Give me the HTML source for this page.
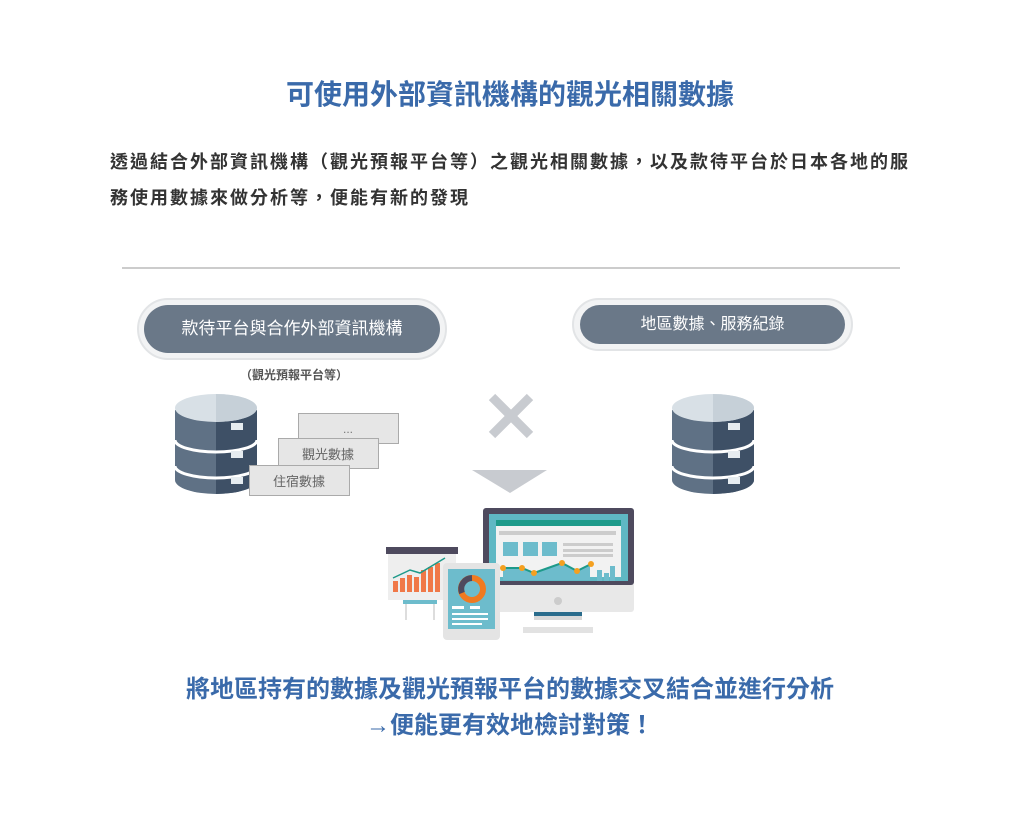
<!DOCTYPE html>
<html><head><meta charset="utf-8"><style>
body{margin:0;width:1020px;height:820px;background:#fff;position:relative;font-family:"Liberation Sans","Noto Sans CJK TC",sans-serif;overflow:hidden}
.a{position:absolute}
.t{left:0;width:1020px;text-align:center}
</style></head><body>
<div class="a t" style="top:73px;font-size:28px;font-weight:bold;color:#3a6aaa">可使用外部資訊機構的觀光相關數據</div>
<div class="a" style="left:110px;top:144px;width:812px;font-size:18px;letter-spacing:2px;font-weight:bold;color:#333;line-height:36px">透過結合外部資訊機構（觀光預報平台等）之觀光相關數據，以及款待平台於日本各地的服務使用數據來做分析等，便能有新的發現</div>
<div class="a" style="left:122px;top:267px;width:778px;height:2px;background:#ccc"></div>

<div class="a" style="left:137px;top:298px;width:306px;height:58px;border:2px solid #e2e4e6;border-radius:32px;background:#f2f3f4"></div>
<div class="a" style="left:144px;top:305px;width:296px;height:48px;border-radius:24px;background:#6a7888;color:#fff;font-size:17px;line-height:48px;text-align:center">款待平台與合作外部資訊機構</div>
<div class="a" style="left:572px;top:298px;width:277px;height:49px;border:2px solid #e2e4e6;border-radius:28px;background:#f2f3f4"></div>
<div class="a" style="left:580px;top:305px;width:265px;height:39px;border-radius:20px;background:#6a7888;color:#fff;font-size:16px;line-height:39px;text-align:center">地區數據、服務紀錄</div>
<div class="a" style="left:240px;top:366px;font-size:12px;color:#555;font-weight:bold">（觀光預報平台等）</div>

<svg class="a" style="left:0;top:0" width="1020" height="820">
<g id="db">
<path d="M175 410 v70 a41 14 0 0 0 82 0 v-70z" fill="#5f7185"/>
<path d="M216 410 h41 v70 a41 14 0 0 1 -41 14z" fill="#3e5066"/>
<path d="M175 440 a41 12 0 0 0 82 0 M175 466 a41 12 0 0 0 82 0" stroke="#fff" stroke-width="3" fill="none"/>
<ellipse cx="216" cy="408" rx="41" ry="14" fill="#d8e0e6"/>
<path d="M216 394 a41 14 0 0 1 0 28z" fill="#c6d0d8"/>
<rect x="231" y="423" width="12" height="7" fill="#e6ecf0"/>
<rect x="231" y="451" width="12" height="7" fill="#e6ecf0"/>
<rect x="231" y="477" width="12" height="7" fill="#e6ecf0"/>
</g>
<use href="#db" x="497"/>
<rect x="298.5" y="413.5" width="100" height="30" fill="#e6e6e6" stroke="#aaa"/>
<text x="348" y="433" font-size="12" fill="#777" text-anchor="middle">...</text>
<rect x="278.5" y="438.5" width="100" height="30" fill="#e6e6e6" stroke="#aaa"/>
<text x="328" y="459" font-size="13" fill="#666" text-anchor="middle" font-family="Liberation Sans,Noto Sans CJK TC,sans-serif">觀光數據</text>
<rect x="249.5" y="465.5" width="100" height="30" fill="#e6e6e6" stroke="#aaa"/>
<text x="299" y="486" font-size="13" fill="#666" text-anchor="middle" font-family="Liberation Sans,Noto Sans CJK TC,sans-serif">住宿數據</text>
<path d="M492 397 L530 435 M530 397 L492 435" stroke="#c8cbd0" stroke-width="9"/>
<path d="M472 470 H547 L510 493z" fill="#c8cbd0"/>
<rect x="483" y="508" width="151" height="104" rx="3" fill="#e8e8e8"/>
<rect x="483" y="508" width="151" height="77" rx="3" fill="#4e4a5e"/>
<rect x="489" y="514" width="139" height="67" fill="#5fb8c4"/>
<rect x="496" y="520" width="125" height="57" fill="#f2f2f2"/>
<rect x="496" y="520" width="125" height="6" fill="#1e9a8a"/>
<rect x="499" y="531" width="117" height="4" fill="#ccc"/>
<rect x="503" y="542" width="15" height="14" fill="#6dbccc"/><rect x="523" y="542" width="15" height="14" fill="#6dbccc"/><rect x="542" y="542" width="15" height="14" fill="#6dbccc"/>
<rect x="563" y="543" width="50" height="3" fill="#ccc"/><rect x="563" y="549" width="50" height="3" fill="#ccc"/><rect x="563" y="554" width="50" height="3" fill="#ccc"/>
<path d="M503 575 V568 L522 568 L534 573 L562 563 L577 571 L590 564 V580 H503z" fill="#6dbccc"/>
<polyline points="503,568 522,568 534,573 562,563 577,571 591,564" stroke="#1e9a8a" stroke-width="2" fill="none"/>
<g fill="#f4a020"><circle cx="503" cy="568" r="3"/><circle cx="522" cy="568" r="3"/><circle cx="534" cy="573" r="3"/><circle cx="562" cy="563" r="3"/><circle cx="577" cy="571" r="3"/><circle cx="591" cy="564" r="3"/></g>
<rect x="597" y="570" width="5" height="11" fill="#6dbccc"/><rect x="604" y="573" width="5" height="8" fill="#6dbccc"/><rect x="610" y="566" width="5" height="15" fill="#6dbccc"/>
<circle cx="558" cy="601" r="4" fill="#ccc"/>
<rect x="534" y="612" width="48" height="8" fill="#d8d8d8"/><rect x="534" y="612" width="48" height="4" fill="#2a6c8c"/>
<rect x="523" y="627" width="70" height="6" fill="#e2e2e2"/>
<rect x="388" y="548" width="68" height="52" fill="#eee"/>
<rect x="386" y="547" width="72" height="7" fill="#4e4a5e"/>
<g fill="#f07848"><rect x="393" y="581" width="5" height="11"/><rect x="400" y="578" width="5" height="14"/><rect x="407" y="575" width="5" height="17"/><rect x="414" y="577" width="5" height="15"/><rect x="421" y="570" width="5" height="22"/><rect x="428" y="567" width="5" height="25"/><rect x="435" y="563" width="5" height="29"/></g>
<polyline points="393,578 410,570 420,573 445,558" stroke="#1e9a8a" stroke-width="1.5" fill="none"/>
<rect x="403" y="600" width="34" height="4" fill="#6dbccc"/>
<path d="M406 604 V620 M434 604 V620" stroke="#ddd" stroke-width="2"/>
<rect x="443" y="563" width="57" height="77" rx="4" fill="#e4e4e4"/>
<rect x="448" y="569" width="47" height="60" fill="#6dbccc"/>
<circle cx="472" cy="589" r="11" fill="none" stroke="#f07a20" stroke-width="6"/>
<path d="M472 578 a11 11 0 0 0 -10 15" stroke="#4e4a5e" stroke-width="6" fill="none"/>
<rect x="452" y="606" width="12" height="3" fill="#fff"/><rect x="470" y="606" width="10" height="3" fill="#fff"/>
<rect x="452" y="613" width="36" height="2" fill="#fff"/><rect x="452" y="618" width="36" height="2" fill="#fff"/><rect x="452" y="623" width="30" height="2" fill="#fff"/>
</svg>

<div class="a t" style="top:672px;font-size:24px;font-weight:bold;color:#3a6aaa;line-height:36px">將地區持有的數據及觀光預報平台的數據交叉結合並進行分析<br>→便能更有效地檢討對策！</div>
</body></html>
